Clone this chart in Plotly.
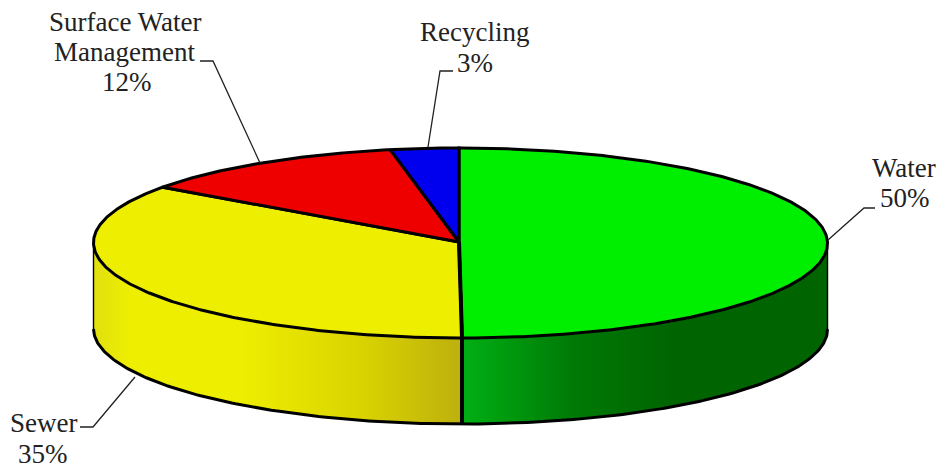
import numpy as np
import plotly.graph_objects as go

# Slice data, clockwise from twelve o'clock
categories = ["Water", "Sewer", "Surface Water Management", "Recycling"]
shares = [50, 35, 12, 3]
top_colors = ["#00EE00", "#EEEE00", "#EE0000", "#0000EE"]

# Label text, one row per line, with its centre
label_rows = [
    ["Water", "50%"],
    ["Sewer", "35%"],
    ["Surface Water", "Management", "12%"],
    ["Recycling", "3%"],
]
label_centres = [
    [(904, 168), (905, 198)],
    [(43, 423), (43, 454)],
    [(125, 22), (124, 52), (127, 82)],
    [(474, 32), (475, 63)],
]
leaders = [
    [(828, 240), (864, 208), (875, 208)],
    [(135, 377), (93, 427), (80, 427)],
    [(260, 163), (213, 61), (200, 61)],
    [(428, 147), (440, 71), (453, 71)],
]

# Wall shading, left to right across each visible wall
wall_gradients = {
    "Water": [[0, "#00B014"], [0.3, "#007A06"], [0.58, "#006400"], [1, "#006400"]],
    "Sewer": [[0, "#E0E010"], [0.1, "#EEEE00"], [0.4, "#EEEE00"], [0.72, "#DAD400"], [1, "#BDB00E"]],
}

# Projection of the tilted disc onto the page
CX, CY, RX, RY = 460.5, 243, 367, 95
DEPTH = 86
SKEW = 0.016
APEX = (459, 242)


def rim(deg, drop=0):
    t = np.radians(np.asarray(deg, dtype=float))
    dy = -RY * np.cos(t)
    return CX + RX * np.sin(t) + SKEW * dy, CY + dy + drop


fig = go.Figure()
edges = np.concatenate([[0], np.cumsum(shares)]) * 3.6

# Walls: only the part of each slice on the near half of the rim is visible
for name, a, b in zip(categories, edges[:-1], edges[1:]):
    lo, hi = max(a, 90), min(b, 270)
    if lo >= hi:
        continue
    arc = np.linspace(lo, hi, 120)
    xt, yt = rim(arc)
    xb, yb = rim(arc[::-1], DEPTH)
    fig.add_trace(go.Scatter(
        x=np.r_[xt, xb], y=np.r_[yt, yb], mode="lines", fill="toself",
        line=dict(width=0),
        fillgradient=dict(type="horizontal", colorscale=wall_gradients[name]),
    ))

# Lower rim and the two silhouette edges
arc = np.linspace(90, 270, 240)
xb, yb = rim(arc, DEPTH)
fig.add_trace(go.Scatter(x=xb, y=yb, mode="lines", line=dict(color="#000", width=3)))
for deg in (90, 270):
    x0, y0 = rim(deg)
    x1, y1 = rim(deg, DEPTH)
    fig.add_trace(go.Scatter(x=[x0, x1], y=[y0, y1], mode="lines",
                             line=dict(color="#000", width=1.4)))

# Top face wedges
for color, a, b in zip(top_colors, edges[:-1], edges[1:]):
    arc = np.linspace(a, b, max(int(b - a) * 2, 8))
    xt, yt = rim(arc)
    fig.add_trace(go.Scatter(
        x=np.r_[APEX[0], xt, APEX[0]], y=np.r_[APEX[1], yt, APEX[1]],
        mode="lines", fill="toself", fillcolor=color,
        line=dict(color="#000", width=3),
    ))

# Heavy seam between the first two slices, down the wall
x0, y0 = rim(edges[1])
x1, y1 = rim(edges[1], DEPTH)
fig.add_trace(go.Scatter(x=[APEX[0], x0, x1], y=[APEX[1], y0, y1], mode="lines",
                         line=dict(color="#000", width=4)))

# Leader lines
for pts in leaders:
    xs, ys = zip(*pts)
    fig.add_trace(go.Scatter(x=xs, y=ys, mode="lines", line=dict(color="#222", width=1.3)))

# Labels
for rows, centres in zip(label_rows, label_centres):
    for text, (x, y) in zip(rows, centres):
        fig.add_annotation(x=x, y=y, text=text, showarrow=False, xanchor="center",
                           yanchor="middle", font=dict(family="Liberation Serif", size=27, color="#222"))

fig.update_layout(
    width=944, height=470, margin=dict(l=0, r=0, t=0, b=0),
    paper_bgcolor="white", plot_bgcolor="white", showlegend=False,
    xaxis=dict(range=[0, 944], visible=False),
    yaxis=dict(range=[470, 0], visible=False),
)
fig.write_html("out.html")
